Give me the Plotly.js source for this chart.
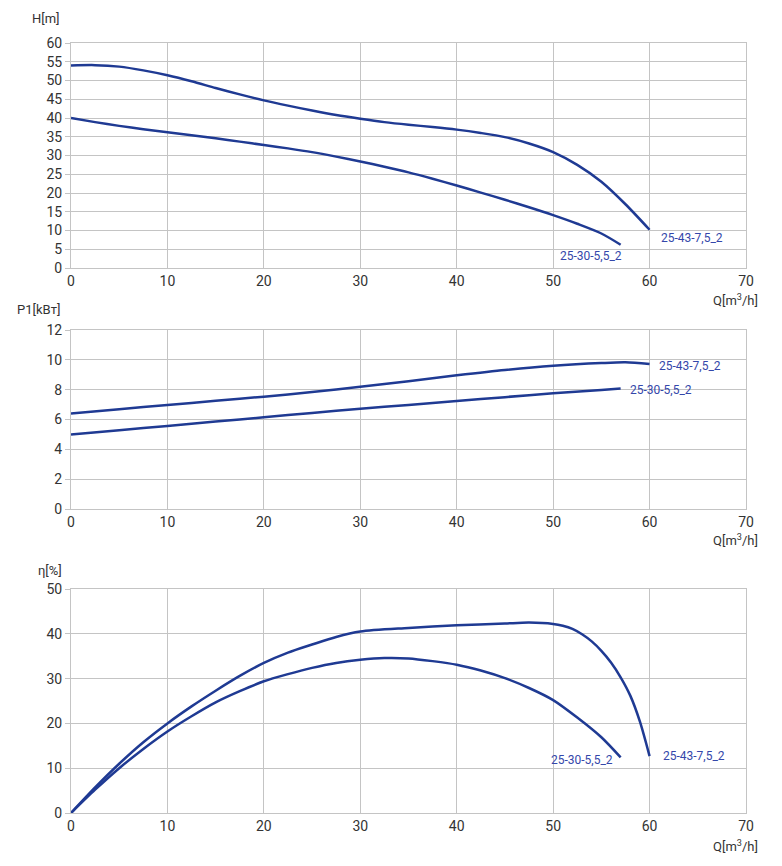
<!DOCTYPE html>
<html>
<head>
<meta charset="utf-8">
<script src="https://cdn.plot.ly/plotly-3.0.1.min.js"></script>
<style>
  html, body { margin: 0; padding: 0; background: #fff; }
  #myDiv { width: 782px; height: 866px; }
</style>
</head>
<body>
<div id="myDiv"></div>
<script>
// head H [m] vs flow Q [m3/h]
var qHBig = [0, 2.5, 5, 7.5, 10, 12.5, 15, 17.5, 20, 22.5, 25, 27.5, 30, 32.5, 35, 37.5, 40, 42.5, 45, 47.5, 50, 52.5, 55, 57.5, 60];
var hBig = [54, 54.1, 53.7, 52.7, 51.4, 49.8, 48, 46.3, 44.7, 43.3, 42, 40.8, 39.8, 38.9, 38.2, 37.6, 36.9, 36, 34.9, 33.2, 30.9, 27.5, 23, 17, 10.2];
var qHSmall = [0, 2.5, 5, 7.5, 10, 12.5, 15, 17.5, 20, 22.5, 25, 27.5, 30, 32.5, 35, 37.5, 40, 42.5, 45, 47.5, 50, 52.5, 55, 57];
var hSmall = [40, 38.9, 37.9, 37, 36.2, 35.4, 34.6, 33.7, 32.8, 31.9, 30.9, 29.7, 28.4, 27, 25.5, 23.8, 22, 20.1, 18.2, 16.2, 14.1, 11.8, 9.2, 6.2];

// power P1 [kW]
var qPBig = [0, 5, 10, 15, 20, 25, 30, 35, 40, 45, 50, 55, 57.5, 60];
var pBig = [6.41, 6.69, 6.97, 7.25, 7.53, 7.84, 8.2, 8.57, 8.96, 9.32, 9.6, 9.78, 9.83, 9.72];
var qPSmall = [0, 5, 10, 15, 20, 25, 30, 35, 40, 45, 50, 55, 57];
var pSmall = [4.99, 5.28, 5.57, 5.86, 6.15, 6.44, 6.72, 6.98, 7.24, 7.5, 7.76, 7.98, 8.07];

// efficiency eta [%]
var qEBig = [0, 2.5, 5, 7.5, 10, 12.5, 15, 17.5, 20, 22.5, 25, 27.5, 30, 35, 40, 45, 47.5, 50, 51, 52, 53, 54, 55, 56, 57, 58, 59, 60];
var eBig = [0, 5.7, 11, 15.8, 20, 23.8, 27.3, 30.6, 33.5, 35.8, 37.6, 39.3, 40.5, 41.3, 41.9, 42.3, 42.5, 42.2, 41.8, 41.1, 39.9, 38.3, 36.2, 33.6, 30.3, 26.2, 20.4, 12.7];
var qESmall = [0, 2.5, 5, 7.5, 10, 12.5, 15, 17.5, 20, 22.5, 25, 27.5, 30, 32.5, 35, 37.5, 40, 42.5, 45, 47.5, 50, 52.5, 55, 57];
var eSmall = [0, 5.2, 10, 14.3, 18.2, 21.6, 24.7, 27.2, 29.4, 31, 32.4, 33.5, 34.2, 34.6, 34.5, 33.9, 33.1, 31.8, 30.1, 27.9, 25.2, 21.3, 16.9, 12.4];

var names = ['25-43-7,5_2', '25-30-5,5_2'];

var lineColor = '#1f3a93';
var labelColor = '#3447aa';
var gridColor = '#c4c4c4';

function curve(x, y, xa, ya) {
  return {
    x: x, y: y, xaxis: xa, yaxis: ya,
    type: 'scatter', mode: 'lines',
    line: {color: lineColor, width: 2.5, shape: 'spline', smoothing: 0.8},
    hoverinfo: 'x+y', showlegend: false
  };
}

var data = [
  curve(qHBig, hBig, 'x', 'y'),
  curve(qHSmall, hSmall, 'x', 'y'),
  curve(qPBig, pBig, 'x2', 'y2'),
  curve(qPSmall, pSmall, 'x2', 'y2'),
  curve(qEBig, eBig, 'x3', 'y3'),
  curve(qESmall, eSmall, 'x3', 'y3')
];

var tickFont = {family: 'Roboto, sans-serif', size: 14, color: '#333'};

function xAxis(anchor) {
  return {
    anchor: anchor, domain: [0, 1], range: [0, 70], dtick: 10,
    showgrid: true, gridcolor: gridColor, gridwidth: 1,
    showline: true, linecolor: gridColor, mirror: true, zeroline: false,
    ticks: '', tickfont: tickFont, fixedrange: true
  };
}
function yAxis(anchor, dom, rng, dt) {
  return {
    anchor: anchor, domain: dom, range: rng, dtick: dt,
    showgrid: true, gridcolor: gridColor, gridwidth: 1,
    showline: true, linecolor: gridColor, mirror: true, zeroline: false,
    ticks: 'outside', ticklen: 5, tickcolor: gridColor,
    tickfont: tickFont, fixedrange: true
  };
}

var H = 866;
function dom(top, bottom) { return [(H - bottom) / H, (H - top) / H]; }

var axFont = {family: 'Roboto, sans-serif', size: 13, color: '#333'};
function note(text, x, y, xref, yref, opts) {
  var a = {text: text, x: x, y: y, xref: xref, yref: yref, showarrow: false,
           font: axFont, xanchor: 'left', yanchor: 'middle'};
  for (var k in opts) a[k] = opts[k];
  return a;
}
var lblFont = {family: 'Roboto, sans-serif', size: 12, color: labelColor};

var annotations = [
  note('H[m]', 30, 18, 'paper', 'paper'),
  note('P1[kBт]', 15, 309, 'paper', 'paper'),
  note('η[%]', 36, 570, 'paper', 'paper'),
  note('Q[m<sup>3</sup>/h]', 760, 300, 'paper', 'paper', {xanchor: 'right'}),
  note('Q[m<sup>3</sup>/h]', 760, 540, 'paper', 'paper', {xanchor: 'right'}),
  note('Q[m<sup>3</sup>/h]', 760, 846, 'paper', 'paper', {xanchor: 'right'}),
  note(names[0], 61, 8, 'x', 'y', {font: lblFont}),
  note(names[1], 50.5, 3.2, 'x', 'y', {font: lblFont}),
  note(names[0], 60.8, 9.6, 'x2', 'y2', {font: lblFont}),
  note(names[1], 57.8, 7.95, 'x2', 'y2', {font: lblFont}),
  note(names[1], 56.4, 11.8, 'x3', 'y3', {font: lblFont, xanchor: 'right'}),
  note(names[0], 61.2, 12.8, 'x3', 'y3', {font: lblFont})
];

// convert pixel-positioned paper notes to paper fractions
annotations.forEach(function (a) {
  if (a.xref === 'paper') {
    a.x = (a.x - 71) / (782 - 71 - 36);
    a.y = (H - a.y) / H;
  }
});

var layout = {
  width: 782, height: H,
  margin: {l: 71, r: 36, t: 0, b: 0},
  paper_bgcolor: '#fff', plot_bgcolor: '#fff',
  xaxis: xAxis('y'),
  yaxis: yAxis('x', dom(43, 268), [0, 60], 5),
  xaxis2: xAxis('y2'),
  yaxis2: yAxis('x2', dom(330, 509), [0, 12], 2),
  xaxis3: xAxis('y3'),
  yaxis3: yAxis('x3', dom(589, 813), [0, 50], 10),
  annotations: annotations,
  showlegend: false
};

Plotly.newPlot('myDiv', data, layout, {displayModeBar: false, staticPlot: true});
</script>
</body>
</html>
